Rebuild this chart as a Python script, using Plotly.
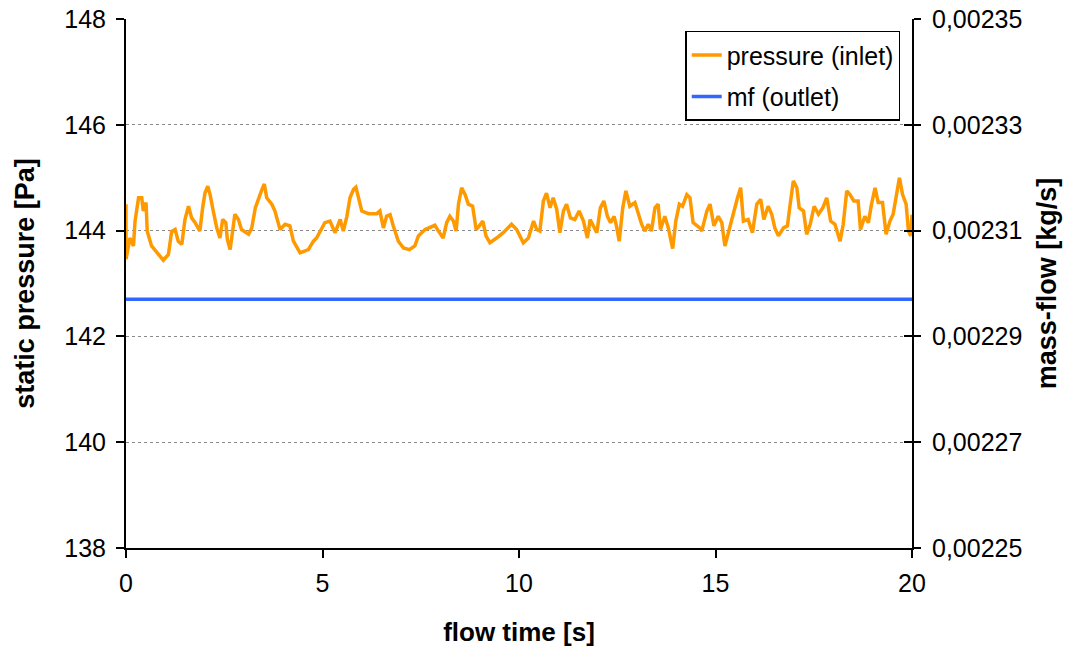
import plotly.graph_objects as go

# ---- data ----
time_s = [0.0, 0.001, 0.10, 0.19, 0.23, 0.32, 0.40, 0.44, 0.51, 0.54, 0.65, 0.95, 1.08, 1.16, 1.25, 1.33, 1.42,
          1.50, 1.59, 1.67, 1.76, 1.88, 1.95, 2.01, 2.08, 2.14, 2.22, 2.31, 2.39, 2.46, 2.54, 2.58,
          2.65, 2.71, 2.77, 2.86, 2.94, 3.12, 3.20, 3.29, 3.37, 3.46, 3.52, 3.58, 3.71, 3.79, 3.92,
          4.05, 4.17, 4.26, 4.43, 4.64, 4.77, 4.85, 5.06, 5.19, 5.32, 5.45, 5.53, 5.62, 5.70, 5.79,
          5.85, 5.94, 6.00, 6.17, 6.38, 6.46, 6.55, 6.63, 6.72, 6.80, 6.93, 7.06, 7.21, 7.35, 7.44,
          7.61, 7.86, 7.95, 8.07, 8.16, 8.24, 8.33, 8.40, 8.46, 8.54, 8.63, 8.71, 8.82, 8.91, 8.99,
          9.08, 9.16, 9.26, 9.43, 9.60, 9.81, 9.94, 10.11, 10.24, 10.37, 10.45, 10.53, 10.62, 10.70,
          10.79, 10.87, 10.96, 11.04, 11.13, 11.21, 11.31, 11.42, 11.53, 11.64, 11.74, 11.81, 11.91,
          11.98, 12.07, 12.16, 12.25, 12.33, 12.42, 12.48, 12.55, 12.64, 12.72, 12.82, 12.95, 13.03,
          13.12, 13.20, 13.29, 13.37, 13.46, 13.54, 13.60, 13.71, 13.80, 13.91, 13.99, 14.08, 14.16,
          14.27, 14.35, 14.43, 14.60, 14.65, 14.78, 14.86, 14.96, 15.07, 15.16, 15.24, 15.33, 15.45,
          15.56, 15.64, 15.71, 15.83, 15.94, 16.05, 16.15, 16.23, 16.34, 16.43, 16.51, 16.60, 16.73,
          16.83, 16.90, 16.98, 17.07, 17.13, 17.24, 17.32, 17.41, 17.51, 17.62, 17.73, 17.83, 17.93,
          18.04, 18.17, 18.25, 18.34, 18.42, 18.52, 18.63, 18.69, 18.80, 18.89, 18.97, 19.06, 19.14,
          19.25, 19.34, 19.44, 19.52, 19.61, 19.68, 19.76, 19.85, 19.91, 19.97, 20.0]
pressure_inlet = [144.50, 143.46, 143.86, 143.71, 144.18, 144.62, 144.62, 144.37, 144.53, 143.99, 143.71,
                  143.44, 143.55, 143.98, 144.02, 143.80, 143.74, 144.21, 144.46, 144.24, 144.15, 143.99,
                  144.43, 144.71, 144.84, 144.68, 144.37, 144.05, 143.86, 144.21, 144.15, 143.83, 143.64,
                  143.99, 144.31, 144.21, 144.02, 143.93, 144.05, 144.43, 144.62, 144.78, 144.88, 144.62,
                  144.50, 144.37, 144.02, 144.12, 144.09, 143.80, 143.58, 143.64, 143.80, 143.86, 144.15,
                  144.18, 143.96, 144.21, 143.99, 144.27, 144.62, 144.78, 144.82, 144.56, 144.37, 144.32,
                  144.32, 144.37, 144.05, 144.27, 144.30, 144.09, 143.80, 143.67, 143.64, 143.71, 143.90,
                  144.02, 144.10, 143.99, 143.86, 144.15, 144.27, 144.18, 143.99, 144.50, 144.81, 144.68,
                  144.50, 144.46, 144.02, 144.09, 144.18, 143.90, 143.77, 143.86, 143.96, 144.12, 144.02,
                  143.77, 143.86, 144.18, 144.02, 143.99, 144.56, 144.71, 144.43, 144.62, 144.40, 143.96,
                  144.37, 144.50, 144.24, 144.21, 144.37, 144.18, 143.86, 144.21, 144.05, 143.96, 144.43,
                  144.56, 144.27, 144.15, 144.27, 144.09, 143.80, 144.43, 144.75, 144.46, 144.53, 144.31,
                  144.12, 143.99, 144.12, 143.99, 144.43, 144.50, 144.02, 144.27, 144.05, 143.66, 144.18,
                  144.50, 144.46, 144.68, 144.62, 144.15, 144.05, 143.99, 144.37, 144.50, 144.09, 144.27,
                  144.15, 143.71, 143.99, 144.31, 144.62, 144.81, 144.18, 144.21, 143.96, 144.50, 144.59,
                  144.21, 144.46, 144.31, 144.05, 143.90, 144.05, 144.09, 144.50, 144.94, 144.81, 144.43,
                  144.37, 143.93, 144.12, 144.46, 144.31, 144.43, 144.62, 144.18, 144.12, 143.80, 144.12,
                  144.75, 144.68, 144.56, 144.56, 144.02, 144.27, 144.15, 144.50, 144.81, 144.53, 144.53,
                  143.93, 144.18, 144.31, 144.68, 145.00, 144.68, 144.50, 143.99, 143.90, 144.30]
mf_time = [0.0, 20.0]
mf_outlet = [0.002297, 0.002297]

left_ticks = [138, 140, 142, 144, 146, 148]
right_ticks = [0.00225, 0.00227, 0.00229, 0.00231, 0.00233, 0.00235]
right_labels = ["0,00225", "0,00227", "0,00229", "0,00231", "0,00233", "0,00235"]
x_ticks = [0, 5, 10, 15, 20]

FONT = "Liberation Sans, Arial, sans-serif"
Y2_RANGE = [0.00225, 0.00235]

fig = go.Figure()
fig.add_trace(go.Scatter(x=time_s, y=pressure_inlet, mode="lines", name="pressure (inlet)",
                         line=dict(color="#FF9900", width=3.5), legendgroup="a"))
fig.add_trace(go.Scatter(x=mf_time, y=mf_outlet, mode="lines", name="mf (outlet)", yaxis="y2",
                         line=dict(color="#3366FF", width=3.5), legendgroup="b"))
# invisible carrier so the inner-tick companion axis is drawn
fig.add_trace(go.Scatter(x=mf_time, y=mf_outlet, mode="lines", yaxis="y3", showlegend=False,
                         hoverinfo="skip", line=dict(color="rgba(0,0,0,0)", width=0)))

tickstyle = dict(tickcolor="black", tickwidth=1.5)

fig.update_layout(
    width=1078, height=650,
    margin=dict(l=126, r=166, t=19, b=102, autoexpand=False),
    paper_bgcolor="white", plot_bgcolor="white",
    font=dict(family=FONT, size=25, color="black"),
    xaxis=dict(range=[0, 20], tickvals=x_ticks, showgrid=False, zeroline=False, automargin=False,
               showline=True, linecolor="black", linewidth=2,
               ticks="outside", ticklen=8, ticklabelstandoff=4, **tickstyle,
               title=dict(text="<b>flow time [s]</b>", font=dict(size=26), standoff=27)),
    yaxis=dict(range=[138, 148], tickvals=left_ticks, zeroline=False, automargin=False,
               showgrid=True, gridcolor="#8a8a8a", griddash="dot", gridwidth=1,
               showline=True, linecolor="black", linewidth=2,
               ticks="outside", ticklen=8, ticklabelstandoff=5, **tickstyle,
               title=dict(text="<b>static pressure [Pa]</b>", font=dict(size=27), standoff=22)),
    yaxis2=dict(range=Y2_RANGE, tickvals=right_ticks, ticktext=right_labels, automargin=False,
                overlaying="y", side="right", showgrid=False, zeroline=False,
                showline=True, linecolor="black", linewidth=2,
                ticks="outside", ticklen=7, ticklabelstandoff=6, **tickstyle,
                title=dict(text="<b>mass-flow [kg/s]</b>", font=dict(size=27), standoff=16)),
    yaxis3=dict(range=Y2_RANGE, tickvals=right_ticks, overlaying="y", side="right", automargin=False,
                showgrid=False, zeroline=False, showline=False, showticklabels=False,
                ticks="inside", ticklen=8, **tickstyle),
    legend=dict(x=0.985, y=0.978, xanchor="right", yanchor="top",
                bgcolor="white", bordercolor="black", borderwidth=1.5,
                font=dict(size=25), traceorder="grouped", tracegroupgap=6,
                entrywidth=200, entrywidthmode="pixels"),
    showlegend=True,
)

fig.write_html("out.html")
